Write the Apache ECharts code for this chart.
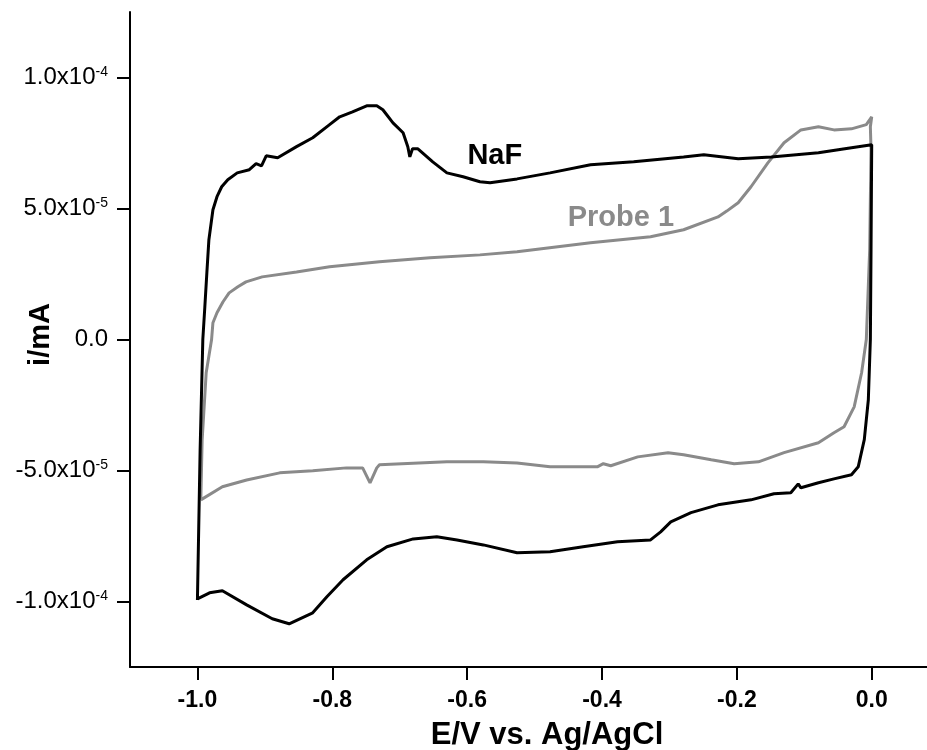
<!DOCTYPE html>
<html>
<head>
<meta charset="utf-8">
<script src="https://cdn.jsdelivr.net/npm/echarts@6/dist/echarts.min.js"></script>
<style>
  html, body { margin: 0; padding: 0; background: #fff; }
  #cvChart { width: 927px; height: 750px; }
</style>
</head>
<body>
<div id="cvChart"></div>
<script>
// currents are written in units of 1e-5 (mA), potentials in V
var I_UNIT = 1e-5;

var nafE = [
  -1.000,-0.996,-0.992,-0.989,-0.986,-0.983,-0.977,-0.971,-0.964,-0.955,-0.941,
  -0.923,-0.913,-0.905,-0.898,-0.881,-0.853,-0.829,-0.804,-0.789,-0.770,
  -0.749,-0.734,-0.725,-0.710,-0.695,-0.688,-0.685,-0.681,-0.673,-0.651,
  -0.630,-0.606,-0.581,-0.566,-0.526,-0.477,-0.417,-0.353,-0.279,-0.249,
  -0.198,-0.149,-0.079,-0.030,0.000,-0.001,-0.002,-0.005,-0.011,-0.020,
  -0.030,-0.056,-0.079,-0.105,-0.109,-0.120,-0.145,-0.179,-0.228,-0.268,
  -0.298,-0.313,-0.328,-0.377,-0.428,-0.477,-0.526,-0.576,-0.615,-0.645,
  -0.680,-0.719,-0.749,-0.784,-0.808,-0.829,-0.864,-0.889,-0.927,-0.963,
  -0.982,-1.000
];
var nafI = [
  -9.94,-4.21,0.00,1.25,2.55,3.81,4.95,5.45,5.83,6.10,6.36,
  6.48,6.71,6.63,7.01,6.94,7.36,7.70,8.20,8.50,8.69,
  8.92,8.92,8.77,8.27,7.89,7.36,6.97,7.28,7.28,6.78,
  6.36,6.21,6.02,5.98,6.13,6.36,6.67,6.78,6.97,7.05,
  6.90,6.97,7.13,7.32,7.43,3.42,0.00,-2.30,-3.82,-4.86,
  -5.16,-5.32,-5.47,-5.66,-5.51,-5.85,-5.89,-6.12,-6.31,-6.61,
  -6.96,-7.34,-7.65,-7.72,-7.91,-8.10,-8.14,-7.84,-7.65,-7.53,
  -7.61,-7.91,-8.41,-9.17,-9.82,-10.43,-10.85,-10.66,-10.13,-9.59,
  -9.67,-9.90
];

var probeE = [
  -0.995,-0.993,-0.987,-0.979,-0.977,-0.971,-0.962,-0.953,-0.940,-0.928,-0.904,-0.853,-0.804,
  -0.730,-0.655,-0.581,-0.526,-0.417,-0.328,-0.279,-0.228,-0.215,-0.198,-0.179,
  -0.154,-0.130,-0.105,-0.079,-0.056,-0.030,-0.008,0.000,-0.002,-0.001,
  -0.003,-0.008,-0.015,-0.026,-0.041,-0.056,-0.079,-0.130,-0.168,-0.204,
  -0.238,-0.279,-0.302,-0.347,-0.387,-0.398,-0.407,-0.477,-0.526,-0.576,
  -0.630,-0.730,-0.734,-0.744,-0.755,-0.779,-0.829,-0.878,-0.927,-0.963,
  -0.995
];
var probeI = [
  -6.12,-3.83,-1.27,0.00,0.64,1.02,1.44,1.78,2.01,2.20,2.39,2.58,2.78,
  2.97,3.12,3.23,3.35,3.69,3.92,4.19,4.68,4.90,5.22,5.83,
  6.74,7.51,8.00,8.12,8.00,8.04,8.20,8.50,8.12,7.24,
  3.42,0.00,-1.27,-2.57,-3.33,-3.56,-3.94,-4.32,-4.67,-4.74,
  -4.59,-4.40,-4.32,-4.48,-4.82,-4.74,-4.86,-4.86,-4.71,-4.67,
  -4.67,-4.78,-4.90,-5.47,-4.90,-4.90,-5.01,-5.09,-5.36,-5.62,
  -6.12
];

var xTicks = [-1.0, -0.8, -0.6, -0.4, -0.2, 0.0];
var yTicks = [-1.0e-4, -5.0e-5, 0, 5.0e-5, 1.0e-4];

// curve labels, placed in data coordinates
var labelText = ['NaF', 'Probe 1'];
var labelE = [-0.559, -0.372];
var labelI = [7.01, 4.64];
var labelColor = ['#000000', '#8a8a8a'];

function pairs(xs, ys) {
  var out = [];
  for (var i = 0; i < xs.length; i++) out.push([xs[i], ys[i] * I_UNIT]);
  return out;
}

function sciLabel(v) {
  if (v === 0) return '{m|0.0}';
  var ex = Math.floor(Math.log10(Math.abs(v)) + 1e-9);
  var mant = v / Math.pow(10, ex);
  return '{m|' + mant.toFixed(1) + 'x10}{e|' + ex + '}';
}

var font = "'Liberation Sans', Arial, Helvetica, sans-serif";

var cvChart = echarts.init(document.getElementById('cvChart'));
var option = {
  backgroundColor: '#ffffff',
  animation: false,
  grid: {
    left: 130,
    right: 0,
    top: 12,
    bottom: 83,
    containLabel: false,
    outerBoundsMode: 'none'
  },
  xAxis: {
    type: 'value',
    min: -1.1,
    max: 0.082,
    name: 'E/V vs. Ag/AgCl',
    nameLocation: 'middle',
    nameGap: 53,
    nameMoveOverlap: false,
    nameTextStyle: {
      fontFamily: font, fontSize: 31, fontWeight: 'bold', color: '#000',
      padding: [0, 0, 0, 37]
    },
    axisLine: { onZero: false, lineStyle: { color: '#000', width: 2 } },
    axisTick: { show: true, inside: false, length: 13, customValues: xTicks, lineStyle: { color: '#000', width: 2 } },
    axisLabel: {
      customValues: xTicks,
      margin: 22,
      fontFamily: font, fontSize: 23, fontWeight: 'bold', color: '#000',
      formatter: function (v) { return v.toFixed(1); }
    },
    splitLine: { show: false }
  },
  yAxis: {
    type: 'value',
    min: -1.25e-4,
    max: 1.25e-4,
    name: 'i/mA',
    nameLocation: 'middle',
    nameGap: 75,
    nameRotate: 90,
    nameMoveOverlap: false,
    nameTextStyle: {
      fontFamily: font, fontSize: 29, fontWeight: 'bold', color: '#000',
      padding: [0, 0, 0, 10]
    },
    axisLine: { onZero: false, lineStyle: { color: '#000', width: 2 } },
    axisTick: { show: true, inside: false, length: 13, customValues: yTicks, lineStyle: { color: '#000', width: 2 } },
    axisLabel: {
      customValues: yTicks,
      margin: 22,
      formatter: sciLabel,
      rich: {
        m: { fontFamily: font, fontSize: 24, color: '#000' },
        e: { fontFamily: font, fontSize: 14, color: '#000', lineHeight: 14, verticalAlign: 'top', padding: [0, 0, 20, 0] }
      }
    },
    splitLine: { show: false }
  },
  series: [
    {
      name: 'NaF',
      type: 'line',
      data: pairs(nafE, nafI),
      showSymbol: false,
      symbol: 'none',
      lineStyle: { color: '#000000', width: 3 },
      z: 3
    },
    {
      name: 'Probe 1',
      type: 'line',
      data: pairs(probeE, probeI),
      showSymbol: false,
      symbol: 'none',
      lineStyle: { color: '#8a8a8a', width: 3 },
      z: 2
    },
    {
      name: 'labels',
      type: 'scatter',
      symbolSize: 1,
      itemStyle: { color: 'rgba(0,0,0,0)' },
      data: labelText.map(function (t, i) {
        return {
          value: [labelE[i], labelI[i] * I_UNIT],
          name: t,
          label: { color: labelColor[i], opacity: 1 }
        };
      }),
      label: {
        show: true,
        position: 'inside',
        fontFamily: font,
        fontSize: 29,
        fontWeight: 'bold',
        textBorderWidth: 0,
        formatter: function (p) { return p.name; }
      },
      silent: true,
      z: 4
    }
  ]
};

cvChart.setOption(option);
</script>
</body>
</html>
